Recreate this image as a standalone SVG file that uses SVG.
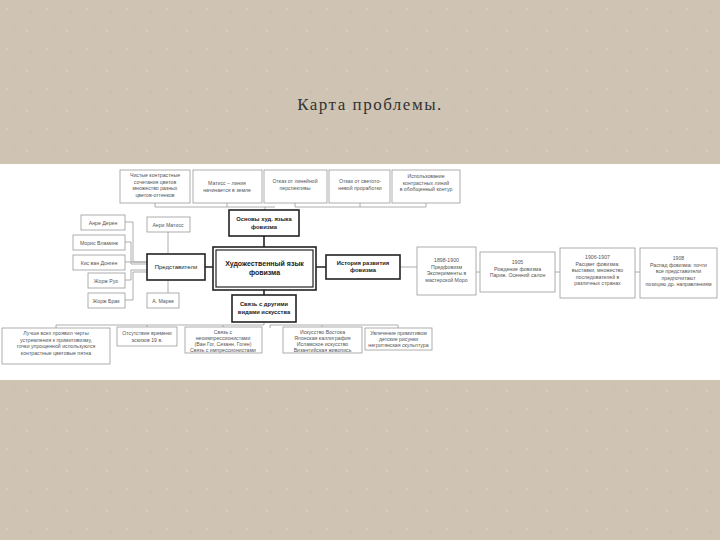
<svg xmlns="http://www.w3.org/2000/svg" width="720" height="540" viewBox="0 0 720 540">
<defs>
<pattern id="tex" width="40" height="40" patternUnits="userSpaceOnUse">
<rect width="40" height="40" fill="#cfc4b3"/>
<circle cx="7" cy="9" r="0.8" fill="#e4dccd"/><circle cx="27" cy="31" r="0.8" fill="#e4dccd"/>
<circle cx="31" cy="12" r="0.6" fill="#b9ad9a"/><circle cx="14" cy="26" r="0.6" fill="#b9ad9a"/>
</pattern>
<style>
.b{fill:#fff;stroke:#999;stroke-width:0.8}
.k{fill:#fff;stroke:#222;stroke-width:1.6}
.t{font-family:"Liberation Sans",Arial,sans-serif;font-size:5.2px;fill:#555;text-anchor:middle}
.tb{font-family:"Liberation Sans",Arial,sans-serif;font-size:5.8px;fill:#222;font-weight:bold;text-anchor:middle}
.c{fill:none;stroke:#999;stroke-width:0.8}
.ck{fill:none;stroke:#222;stroke-width:1.6}
</style>
</defs>
<rect width="720" height="540" fill="url(#tex)"/>
<rect x="0" y="164" width="720" height="216" fill="#fff"/>
<text x="370" y="110" font-family="Liberation Serif,serif" font-size="17" letter-spacing="1.5" fill="#333" text-anchor="middle">Карта проблемы.</text>
<g id="connectors">
<path class="c" d="M155 203V207H275M227 203V207M295 203V207M360 203V207M426 203V207H295"/>
<path class="c" d="M265 207V210"/>
<path class="ck" d="M264 236V248M264 289V295M205 267H213M316 267H326"/>
<path class="c" d="M400 267H417M476 272H480M555 272H560M635 272H640"/>
<path class="c" d="M168 232V253M168 280V293"/>
<path class="c" d="M125 222H133V262H147M125 242H131V264H147M125 262H147M125 280H131V270H147M125 300H133V272H147"/>
<path class="c" d="M264 322V325H56V328M147 325V327M223 325V327M270 325V328M270 325H398V328M322 325V327"/>
</g>
<g id="n-top1"><rect class="b" x="120" y="170" width="70" height="33"/><text class="t" x="155" y="177">Чистые контрастные</text><text class="t" x="155" y="183.5">сочетания цветов</text><text class="t" x="155" y="190">множество разных</text><text class="t" x="155" y="196.5">цветов-оттенков</text></g>
<g id="n-top2"><rect class="b" x="193" y="170" width="69" height="33"/><text class="t" x="227" y="185">Матисс – линия</text><text class="t" x="227" y="191.5">начинается в земле</text></g>
<g id="n-top3"><rect class="b" x="264" y="170" width="63" height="33"/><text class="t" x="295" y="183">Отказ от линейной</text><text class="t" x="295" y="189.5">перспективы</text></g>
<g id="n-top4"><rect class="b" x="329" y="170" width="61" height="33"/><text class="t" x="360" y="183">Отказ от светото-</text><text class="t" x="360" y="189.5">невой проработки</text></g>
<g id="n-top5"><rect class="b" x="392" y="170" width="68" height="33"/><text class="t" x="426" y="178">Использование</text><text class="t" x="426" y="184.5">контрастных линий</text><text class="t" x="426" y="191">в обобщенный контур</text></g>
<g id="n-osnovy"><rect class="k" x="229" y="210" width="70" height="26"/><text class="tb" x="264" y="221">Основы худ. языка</text><text class="tb" x="264" y="229">фовизма</text></g>
<g id="n-main"><rect class="k" x="213" y="247" width="103" height="43"/><rect fill="none" stroke="#222" stroke-width="1.2" x="216" y="250" width="97" height="37"/><text class="tb" x="264.5" y="266" style="font-size:7px">Художественный язык</text><text class="tb" x="264.5" y="275" style="font-size:7px">фовизма</text></g>
<g id="n-pred"><rect class="k" x="147" y="254" width="58" height="26"/><text class="tb" x="176" y="269" style="font-weight:normal;font-size:6px">Представители</text></g>
<g id="n-hist"><rect class="k" x="326" y="255" width="74" height="24"/><text class="tb" x="363" y="265">История развития</text><text class="tb" x="363" y="272">фовизма</text></g>
<g id="n-svyaz"><rect class="k" x="232" y="295" width="64" height="27"/><text class="tb" x="264" y="306">Связь с другими</text><text class="tb" x="264" y="314">видами искусства</text></g>
<g id="n-deren"><rect class="b" x="81" y="215" width="44" height="15"/><text class="t" x="103" y="224.5">Анре Дерен</text></g>
<g id="n-vlam"><rect class="b" x="73" y="235" width="52" height="15"/><text class="t" x="99" y="244.5">Морис Вламинк</text></g>
<g id="n-dong"><rect class="b" x="73" y="255" width="52" height="15"/><text class="t" x="99" y="264.5">Кис ван Донген</text></g>
<g id="n-rue"><rect class="b" x="88" y="273" width="37" height="15"/><text class="t" x="106" y="282.5">Жорж Руо</text></g>
<g id="n-brak"><rect class="b" x="88" y="293" width="37" height="15"/><text class="t" x="106" y="302.5">Жорж Брак</text></g>
<g id="n-matiss"><rect class="b" x="147" y="217" width="43" height="15"/><text class="t" x="168" y="226.5">Анри Матисс</text></g>
<g id="n-marke"><rect class="b" x="147" y="293" width="32" height="15"/><text class="t" x="163" y="302.5">А. Марке</text></g>
<g id="n-t1"><rect class="b" x="417" y="247" width="59" height="48"/><text class="t" x="446.5" y="262">1898-1900</text><text class="t" x="446.5" y="268.5">Предфовизм</text><text class="t" x="446.5" y="275">Эксперименты в</text><text class="t" x="446.5" y="281.5">мастерской Моро</text></g>
<g id="n-t2"><rect class="b" x="480" y="252" width="75" height="40"/><text class="t" x="517.5" y="264">1905</text><text class="t" x="517.5" y="270.5">Рождение фовизма</text><text class="t" x="517.5" y="277">Париж. Осенний салон</text></g>
<g id="n-t3"><rect class="b" x="560" y="248" width="75" height="50"/><text class="t" x="597.5" y="259">1906-1907</text><text class="t" x="597.5" y="265.5">Расцвет фовизма:</text><text class="t" x="597.5" y="272">выставки, множество</text><text class="t" x="597.5" y="278.5">последователей в</text><text class="t" x="597.5" y="285">различных странах</text></g>
<g id="n-t4"><rect class="b" x="640" y="248" width="77" height="50"/><text class="t" x="678.5" y="260">1908</text><text class="t" x="678.5" y="266.5">Распад фовизма: почти</text><text class="t" x="678.5" y="273">все представители</text><text class="t" x="678.5" y="279.5">предпочитают</text><text class="t" x="678.5" y="286">позицию др. направлениям</text></g>
<g id="n-b1"><rect class="b" x="2" y="328" width="108" height="36"/><text class="t" x="56" y="335">Лучше всех проявил черты</text><text class="t" x="56" y="341.5">устремления к примитивизму,</text><text class="t" x="56" y="348">точки упрощенной используются</text><text class="t" x="56" y="354.5">контрастные цветовые пятна</text></g>
<g id="n-b2"><rect class="b" x="117" y="327" width="60" height="19"/><text class="t" x="147" y="335">Отсутствие времени</text><text class="t" x="147" y="341.5">эскизов 19 в.</text></g>
<g id="n-b3"><rect class="b" x="185" y="327" width="77" height="26"/><text class="t" x="223" y="334">Связь с</text><text class="t" x="223" y="340">неоимпрессионистами</text><text class="t" x="223" y="346">(Ван Гог, Сезанн, Гоген)</text><text class="t" x="223" y="352">Связь с импрессионистами</text></g>
<g id="n-b4"><rect class="b" x="283" y="327" width="79" height="26"/><text class="t" x="322.5" y="334">Искусство Востока</text><text class="t" x="322.5" y="340">Японская каллиграфия</text><text class="t" x="322.5" y="346">Исламское искусство</text><text class="t" x="322.5" y="352">Византийская живопись</text></g>
<g id="n-b5"><rect class="b" x="365" y="328" width="67" height="22"/><text class="t" x="398.5" y="335">Увлечение примитивом</text><text class="t" x="398.5" y="341">детские рисунки</text><text class="t" x="398.5" y="347">негритянская скульптура</text></g>
</svg>
